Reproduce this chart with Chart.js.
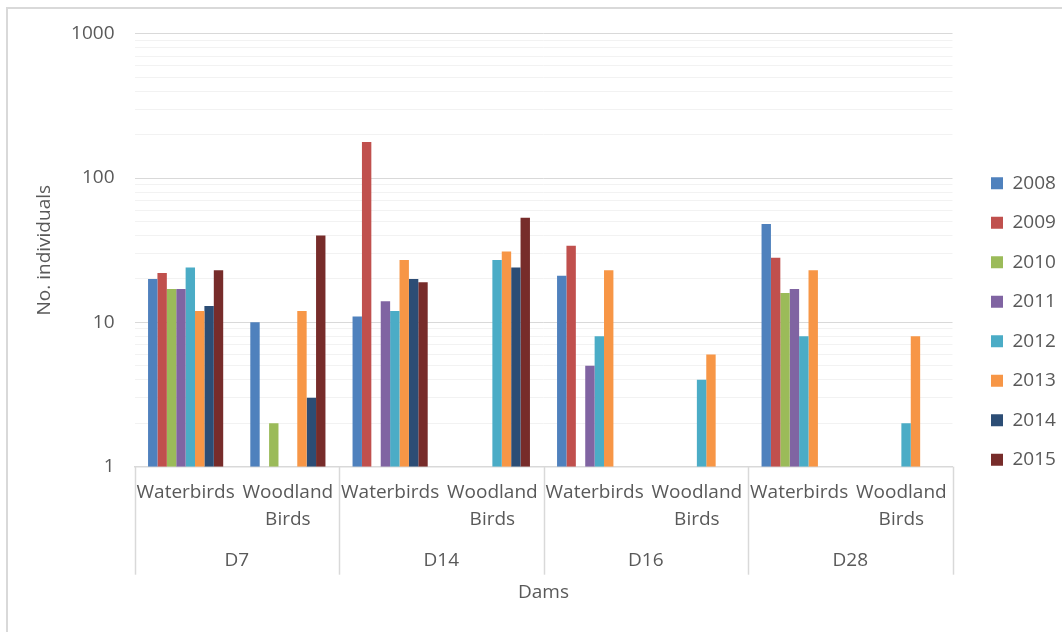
<!DOCTYPE html>
<html>
<head>
<meta charset="utf-8">
<script src="https://cdn.jsdelivr.net/npm/chart.js@4/dist/chart.umd.min.js"></script>
<style>
  body { margin: 0; background: #fff; }
  #wrap { position: relative; width: 1062px; height: 632px; overflow: hidden; }
  #frame { position: absolute; left: 6px; top: 7px; width: 1200px; height: 800px;
           border-left: 2px solid #d9d9d9; border-top: 2px solid #d9d9d9; pointer-events: none; }
  canvas { position: absolute; left: 0; top: 0; }
</style>
</head>
<body>
<div id="wrap">
  <canvas id="chart" width="1062" height="632"></canvas>
  <div id="frame"></div>
</div>
<script>
// --- Datos ---
const categorias = ['Waterbirds', ['Woodland', 'Birds'], 'Waterbirds', ['Woodland', 'Birds'],
                    'Waterbirds', ['Woodland', 'Birds'], 'Waterbirds', ['Woodland', 'Birds']];
const presas = ['D7', 'D14', 'D16', 'D28'];
const anios = ['2008', '2009', '2010', '2011', '2012', '2013', '2014', '2015'];

const v2008 = [20, 10, 11, null, 21, null, 48, null];
const v2009 = [22, null, 178, null, 34, null, 28, null];
const v2010 = [17, 2, null, null, null, null, 16, null];
const v2011 = [17, null, 14, null, 5, null, 17, null];
const v2012 = [24, null, 12, 27, 8, 4, 8, 2];
const v2013 = [12, 12, 27, 31, 23, 6, 23, 8];
const v2014 = [13, 3, 20, 24, null, null, null, null];
const v2015 = [23, 40, 19, 53, null, null, null, null];

const colores = ['#4F81BD', '#C0504D', '#9BBB59', '#8064A2', '#4BACC6', '#F79646', '#2C4D75', '#772C2A'];

// ticks del eje log: décadas con etiqueta + líneas menores 2..9
const ticksMayores = [1, 10, 100, 1000];
const multiplicadores = [1, 2, 3, 4, 5, 6, 7, 8, 9];
const ticksY = [];
ticksMayores.slice(0, 3).forEach(d => multiplicadores.forEach(m => ticksY.push(d * m)));
ticksY.push(1000);

const series = [v2008, v2009, v2010, v2011, v2012, v2013, v2014, v2015];

Chart.defaults.font.family = "'Open Sans', sans-serif";
Chart.defaults.font.size = 19;
Chart.defaults.color = '#595959';

// líneas verticales que separan cada presa en el eje x
const separadores = {
    id: 'separadores',
    afterInit(chart) {
        // ancho fijo de la leyenda
        const lg = chart.legend;
        const fitOrig = lg.fit;
        lg.fit = function () { fitOrig.call(this); this.width = 91.5; };
    },
    afterDraw(chart) {
        const x = chart.scales.x;
        const x2 = chart.scales.x2;
        const ancho = (x.right - x.left) / presas.length;
        const ctx = chart.ctx;
        ctx.save();
        ctx.strokeStyle = '#d9d9d9';
        ctx.lineWidth = 1.5;
        for (let i = 0; i <= presas.length; i++) {
            const px = Math.round(x.left + i * ancho) + 0.5;
            ctx.beginPath();
            ctx.moveTo(px, x.top);
            ctx.lineTo(px, x2.top + 28);
            ctx.stroke();
        }
        ctx.restore();
    }
};

const ctx = document.getElementById('chart').getContext('2d');
new Chart(ctx, {
    type: 'bar',
    data: {
        labels: categorias,
        datasets: anios.map((a, i) => ({
            label: a,
            data: series[i],
            xAxisID: 'x',
            yAxisID: 'y',
            backgroundColor: colores[i],
            borderWidth: 0,
            barPercentage: 1,
            categoryPercentage: 0.735
        }))
    },
    options: {
        responsive: false,
        animation: false,
        layout: { padding: { top: 11, right: 0, bottom: 0, left: 0 } },
        plugins: {
            tooltip: { enabled: false },
            legend: {
                position: 'right',
                labels: { boxWidth: 12, boxHeight: 12, padding: 20.5, color: '#595959' }
            }
        },
        scales: {
            x: {
                weight: 0,
                afterFit: s => { s.height = 80; },
                grid: { display: false, drawTicks: false },
                border: { color: '#d9d9d9', width: 1.5 },
                ticks: { padding: 13, maxRotation: 0, autoSkip: false, font: { lineHeight: 1.4 } }
            },
            y: {
                type: 'logarithmic',
                min: 1,
                max: 1000,
                afterBuildTicks: s => { s.ticks = ticksY.map(v => ({ value: v, major: ticksMayores.includes(v) })); },
                afterFit: s => { s.width = 134.5; },
                ticks: {
                    padding: 20,
                    autoSkip: false,
                    callback: v => ticksMayores.includes(v) ? String(v) : ''
                },
                grid: {
                    drawTicks: false,
                    color: c => ticksMayores.includes(c.tick && c.tick.value) ? '#d9d9d9' : '#f2f2f2'
                },
                border: { display: false },
                title: { display: true, text: 'No. individuals', padding: { top: 33, bottom: 0 } }
            },
            x2: {
                type: 'category',
                labels: presas,
                position: 'bottom',
                weight: 1,
                offset: true,
                afterFit: s => { s.height = 85.3; },
                grid: { display: false, drawTicks: false },
                border: { display: false },
                ticks: { padding: 1, font: { lineHeight: 1.4 } },
                title: { display: true, text: 'Dams', padding: { top: 0, bottom: 27.6 } }
            },
            yGap: {
                position: 'right',
                display: true,
                afterFit: s => { s.width = 18; },
                ticks: { display: false },
                grid: { display: false },
                border: { display: false }
            },
            xTop: {
                type: 'category',
                labels: presas,
                position: 'top',
                display: true,
                afterFit: s => { s.height = 22.7; },
                ticks: { display: false },
                grid: { display: false, drawTicks: false },
                border: { display: false }
            }
        }
    },
    plugins: [separadores]
});
</script>
</body>
</html>
